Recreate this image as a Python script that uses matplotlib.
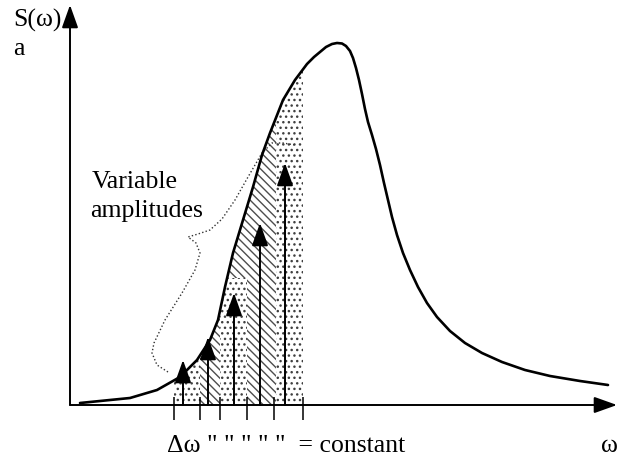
import matplotlib
matplotlib.use('Agg')
import matplotlib.pyplot as plt
from matplotlib.patches import Polygon

plt.rcParams['font.family'] = ['Liberation Serif', 'DejaVu Serif']
plt.rcParams['hatch.linewidth'] = 1.0

# spectrum curve S(omega) (origin at the axes corner)
omega = [10, 30, 60, 87, 110, 127, 140, 148, 155, 163, 173, 183, 192, 200, 213, 225,
         237, 244, 250, 256, 262, 267, 272, 276, 280, 283, 286, 289, 292, 295, 298,
         302, 306, 310, 314, 318, 322, 327, 333, 340, 348, 357, 367, 380, 395, 412,
         432, 455, 480, 510, 538]
S = [2, 4, 7, 15, 28, 45, 65, 85, 118, 152, 185, 218, 250, 272, 305, 325,
     341, 348, 353, 358, 361, 362, 361.5, 359, 354, 347, 337, 325, 311, 296, 283,
     270, 256, 240, 222, 205, 188, 170, 152, 135, 118, 102, 88, 74, 62, 52,
     43, 35, 29, 24, 20]

# sampled components: arrow positions and amplitudes
arrow_w = [113, 138, 164, 190, 215]
arrow_a = [45, 68, 112, 182, 242]

# equally spaced delta-omega tick marks
ticks_w = [104, 130, 150, 177, 204, 233]

# bracket pointing at the label
brace_w = [98, 87, 82, 84, 95, 112, 125, 130, 126, 118, 128, 140, 152, 165, 178, 192, 202, 213, 225]
brace_s = [33, 40, 52, 62, 85, 112, 135, 152, 162, 168, 171, 175, 186, 205, 228, 252, 262, 262, 260]

fig = plt.figure(figsize=(6.17, 4.62), dpi=100)
ax = fig.add_axes([0, 0, 1, 1])
ax.set_xlim(-70, 547)
ax.set_ylim(-57, 405)
ax.axis('off')

# area under the curve used as clip path
under = Polygon(list(zip(omega, S)) + [(omega[-1], 0), (omega[0], 0)], closed=True,
                facecolor='none', edgecolor='none')
ax.add_patch(under)

dots = ax.fill_between([ticks_w[0], ticks_w[-1]], 0, 400, facecolor='white',
                       edgecolor='0.25', linewidth=0, hatch='...')
dots.set_clip_path(under)
for lo, hi, base in [(130, 150, 0), (150, 177, 127), (177, 206, 0)]:
    h = ax.fill_between([lo, hi], base, 400, facecolor='white', edgecolor='0.3',
                        linewidth=0, hatch='\\\\\\\\')
    h.set_clip_path(under)

ax.plot(omega, S, color='black', lw=1.9, solid_capstyle='round',
        solid_joinstyle='round', zorder=5)

# axes with arrows
head = '-|>,head_length=1.4,head_width=0.5'
ax.annotate('', xy=(0, 400), xytext=(0, 0),
            arrowprops=dict(arrowstyle=head, color='black', lw=1.4,
                            mutation_scale=10, shrinkA=0, shrinkB=0))
ax.annotate('', xy=(547, 0), xytext=(0, 0),
            arrowprops=dict(arrowstyle=head, color='black', lw=1.4,
                            mutation_scale=10, shrinkA=0, shrinkB=0))

for w, a in zip(arrow_w, arrow_a):
    ax.annotate('', xy=(w, a), xytext=(w, 0),
                arrowprops=dict(arrowstyle=head, color='black', lw=1.4,
                                mutation_scale=10, shrinkA=0, shrinkB=0), zorder=6)

ax.vlines(ticks_w, -15, 8, color='black', lw=1.1)

ax.plot(brace_w, brace_s, color='0.2', lw=1.0, ls=(0, (1, 1.6)))

fs = 18.5
ax.text(-57, 378, 'S(ω)', fontsize=fs, ha='left', va='baseline')
ax.text(-57, 350, 'a', fontsize=fs, ha='left', va='baseline')
ax.text(22, 217, 'Variable', fontsize=fs, ha='left', va='baseline')
ax.text(20, 188, 'amplitudes', fontsize=fs, ha='left', va='baseline')
ax.text(97, -47, 'Δω " " " " "  = constant', fontsize=fs, ha='left', va='baseline')
ax.text(531, -47, 'ω', fontsize=fs, ha='left', va='baseline')

fig.savefig('out.png', dpi=100)
